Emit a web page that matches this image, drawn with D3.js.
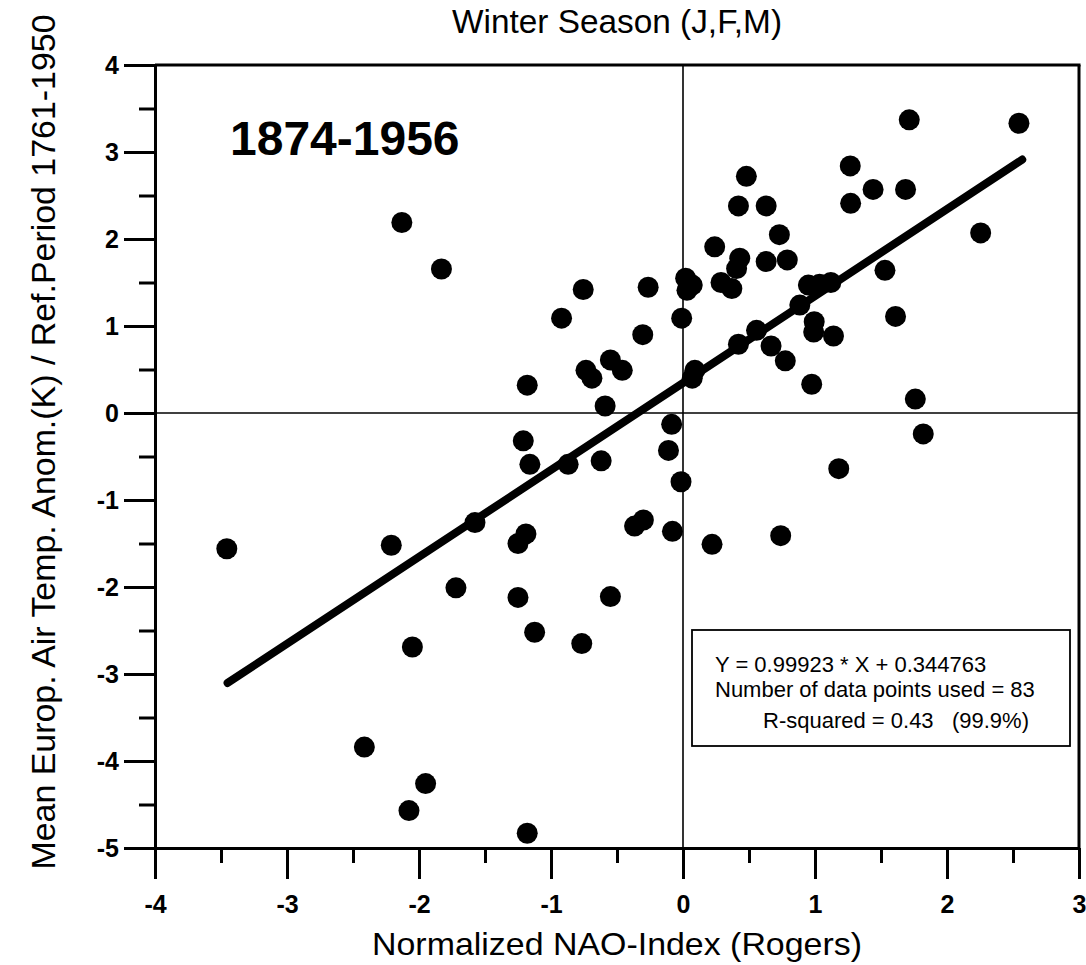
<!DOCTYPE html>
<html>
<head>
<meta charset="utf-8">
<script src="https://cdn.jsdelivr.net/npm/d3@7"></script>
<style>
  html, body { margin: 0; padding: 0; background: #fff; }
  svg { display: block; }
  text { font-family: "Liberation Sans", Arial, sans-serif; fill: #000; }
</style>
</head>
<body>
<svg id="chart" width="1086" height="965"></svg>
<script>
// ---- data ----
const naoIndex = [
  1.714, 2.545, 1.267, 1.44, 1.686, 1.27, 0.48, 0.42, 0.63, 2.255,
  0.73, 0.24, 0.43, 0.406, 0.79, 0.63, 1.53, 0.288, 0.37, 0.02,
  0.07, 0.03, 0.95, 1.035, 1.12, 0.885, -0.756, -0.264, -0.92, -0.01,
  1.61, 0.994, 0.99, 1.14, -0.305, 0.557, 0.42, 0.667, 0.775, 0.975,
  1.76, 1.82, 0.09, 0.07, -0.735, -0.69, -0.55, -0.46, -1.18, -0.59,
  -0.086, -0.11, -0.015, -1.21, -1.16, -0.87, -0.62, -1.576, -3.456, -2.21,
  -1.25, -1.19, -0.367, -0.30, -0.08, -1.72, -1.25, -0.55, -1.124, -0.767,
  -2.05, -2.414, -1.95, -2.076, -1.18, 0.22, 0.74, 1.18, -2.13, -1.83
];
const tempAnom = [
  3.37, 3.33, 2.84, 2.57, 2.57, 2.41, 2.72, 2.38, 2.38, 2.07,
  2.05, 1.91, 1.78, 1.66, 1.76, 1.74, 1.64, 1.50, 1.43, 1.55,
  1.47, 1.41, 1.47, 1.48, 1.50, 1.24, 1.42, 1.445, 1.09, 1.09,
  1.11, 1.05, 0.93, 0.885, 0.90, 0.95, 0.79, 0.77, 0.60, 0.33,
  0.16, -0.24, 0.49, 0.40, 0.49, 0.40, 0.61, 0.49, 0.32, 0.08,
  -0.13, -0.43, -0.79, -0.32, -0.59, -0.59, -0.55, -1.26, -1.56, -1.52,
  -1.50, -1.39, -1.30, -1.23, -1.36, -2.01, -2.12, -2.11, -2.52, -2.65,
  -2.69, -3.84, -4.26, -4.57, -4.83, -1.51, -1.41, -0.64, 2.19, 1.655
];
const fitSlope = 0.99923;
const fitIntercept = 0.344763;
const fitXRange = [-3.45, 2.57];
const xTicks = [-4, -3, -2, -1, 0, 1, 2, 3];
const yTicks = [4, 3, 2, 1, 0, -1, -2, -3, -4, -5];
const titleText = "Winter Season (J,F,M)";
const periodText = "1874-1956";
const xLabelText = "Normalized NAO-Index (Rogers)";
const yLabelText = "Mean Europ. Air Temp. Anom.(K) / Ref.Period 1761-1950";
const statsLines = ["Y = 0.99923 * X + 0.344763", "Number of data points used = 83", "R-squared = 0.43   (99.9%)"];

// ---- layout ----
const svg = d3.select("#chart");
const L = 155, R = 1079, T = 65, B = 848;
const x = d3.scaleLinear().domain([-4, 3]).range([L, R]);
const y = d3.scaleLinear().domain([-5, 4]).range([B, T]);
const hyphenFmt = d => String(d);

// zero lines
svg.append("line").attr("x1", x(0)).attr("x2", x(0)).attr("y1", T).attr("y2", B)
  .attr("stroke", "#000").attr("stroke-width", 1.6);
svg.append("line").attr("x1", L).attr("x2", R).attr("y1", y(0)).attr("y2", y(0))
  .attr("stroke", "#000").attr("stroke-width", 1.6);

// frame top and right
svg.append("line").attr("x1", L).attr("x2", R + 1.5).attr("y1", T).attr("y2", T)
  .attr("stroke", "#000").attr("stroke-width", 3);
svg.append("line").attr("x1", R).attr("x2", R).attr("y1", T).attr("y2", B)
  .attr("stroke", "#000").attr("stroke-width", 3);

// minor ticks
const xMinor = d3.range(-3.5, 3, 1);
const yMinor = d3.range(-4.5, 4, 1);
svg.append("g").attr("transform", `translate(0,${B})`)
  .call(d3.axisBottom(x).tickValues(xMinor).tickSize(15).tickSizeOuter(0).tickFormat(""))
  .call(g => g.select(".domain").remove())
  .call(g => g.selectAll("line").attr("stroke-width", 3));
svg.append("g").attr("transform", `translate(${L},0)`)
  .call(d3.axisLeft(y).tickValues(yMinor).tickSize(16).tickSizeOuter(0).tickFormat(""))
  .call(g => g.select(".domain").remove())
  .call(g => g.selectAll("line").attr("stroke-width", 3));

// major axes
const gx = svg.append("g").attr("transform", `translate(0,${B})`)
  .call(d3.axisBottom(x).tickValues(xTicks).tickSize(31).tickSizeOuter(0).tickPadding(16).tickFormat(hyphenFmt));
gx.select(".domain").attr("stroke-width", 3);
gx.selectAll("line").attr("stroke-width", 3);
gx.selectAll("text").attr("font-size", 25).attr("font-weight", "bold")
  .attr("font-family", '"Liberation Sans", Arial, sans-serif');

const gy = svg.append("g").attr("transform", `translate(${L},0)`)
  .call(d3.axisLeft(y).tickValues(yTicks).tickSize(31).tickSizeOuter(0).tickPadding(5).tickFormat(hyphenFmt));
gy.select(".domain").attr("stroke-width", 3);
gy.selectAll("line").attr("stroke-width", 3);
gy.selectAll("text").attr("font-size", 25).attr("font-weight", "bold")
  .attr("font-family", '"Liberation Sans", Arial, sans-serif');

// regression line
const fitLine = d3.line().x(d => x(d)).y(d => y(fitSlope * d + fitIntercept));
svg.append("path").datum(fitXRange).attr("d", fitLine)
  .attr("fill", "none").attr("stroke", "#000").attr("stroke-width", 8).attr("stroke-linecap", "round");

// points
const pts = naoIndex.map((v, i) => ({ nx: v, ty: tempAnom[i] }));
svg.append("g").selectAll("circle").data(pts).join("circle")
  .attr("cx", d => x(d.nx)).attr("cy", d => y(d.ty)).attr("r", 10.5).attr("fill", "#000");

// period label
svg.append("text").attr("x", 230).attr("y", 155).attr("font-size", 48).attr("font-weight", "bold")
  .text(periodText);

// stats box
svg.append("rect").attr("x", 692).attr("y", 630).attr("width", 378).attr("height", 116)
  .attr("fill", "#fff").attr("stroke", "#000").attr("stroke-width", 1.8);
const statsX = [715, 715, 763];
const statsY = [672, 697, 728];
statsLines.forEach((s, i) => {
  svg.append("text").attr("x", statsX[i]).attr("y", statsY[i]).attr("font-size", 22)
    .attr("xml:space", "preserve").style("white-space", "pre").text(s);
});

// title
svg.append("text").attr("x", (L + R) / 2).attr("y", 33).attr("text-anchor", "middle")
  .attr("font-size", 34).attr("textLength", 330).attr("lengthAdjust", "spacingAndGlyphs")
  .text(titleText);

// x label
svg.append("text").attr("x", (L + R) / 2).attr("y", 955).attr("text-anchor", "middle")
  .attr("font-size", 32).attr("textLength", 490).attr("lengthAdjust", "spacingAndGlyphs")
  .text(xLabelText);

// y label
svg.append("text").attr("transform", `translate(55,442) rotate(-90)`).attr("text-anchor", "middle")
  .attr("font-size", 34).attr("textLength", 855).attr("lengthAdjust", "spacingAndGlyphs")
  .text(yLabelText);
</script>
</body>
</html>
